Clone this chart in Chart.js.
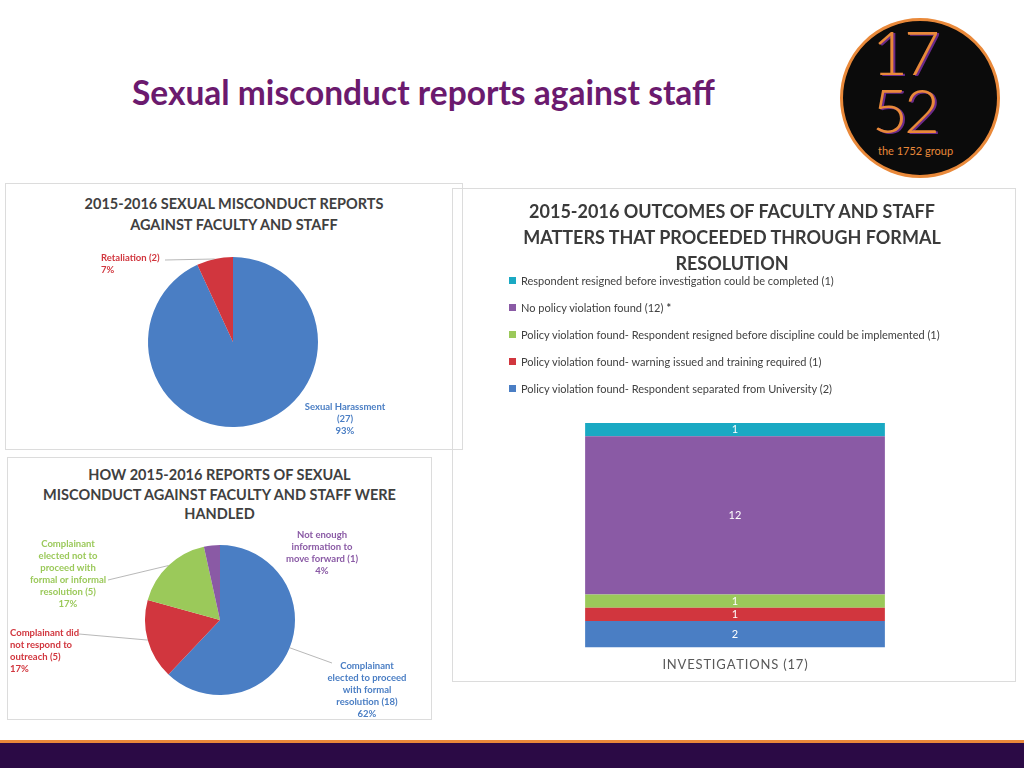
<!DOCTYPE html>
<html><head><meta charset="utf-8">
<script src="https://cdn.jsdelivr.net/npm/chart.js@4"></script>
<style>
body{margin:0;width:1024px;height:768px;position:relative;background:#fff;font-family:Lato,"Open Sans",sans-serif;overflow:hidden}
.abs{position:absolute}
.panel{position:absolute;border:1px solid #dcdcdc;box-sizing:border-box}
.ptitle{position:absolute;text-align:center;font-weight:bold;color:#404040;font-size:14.5px;line-height:21px}
#legend div{font-size:11px;color:#404040;height:27px;display:flex;align-items:center}
#legend span{display:inline-block;width:7px;height:7px;margin-right:5px}
</style></head><body>
<div class="abs" style="left:132px;top:72px;font-size:33.5px;font-weight:bold;color:#6b1a6e">Sexual misconduct reports against staff</div>
<div class="abs" style="left:840px;top:18px;width:154px;height:154px;border-radius:50%;background:#0b0b0b;border:3px solid #e9893a"></div>
<div class="abs" style="left:872px;top:22px;font-size:62px;font-weight:300;color:#e9893a;letter-spacing:-4px;line-height:58px;text-shadow:2px 1px 0 #6b2a8a">17<br>52</div>
<div class="abs" style="left:878px;top:144px;font-size:11px;color:#e9893a">the 1752 group</div>

<div class="panel" style="left:5px;top:183px;width:458px;height:267px"></div>
<div class="ptitle" style="left:5px;top:193px;width:458px">2015-2016 SEXUAL MISCONDUCT REPORTS<br>AGAINST FACULTY AND STAFF</div>
<canvas id="pie1" class="abs" style="left:5px;top:183px"></canvas>

<div class="panel" style="left:7px;top:457px;width:425px;height:263px"></div>
<div class="ptitle" style="left:7px;top:465px;width:425px;line-height:19.5px">HOW 2015-2016 REPORTS OF SEXUAL<br>MISCONDUCT AGAINST FACULTY AND STAFF WERE<br>HANDLED</div>
<canvas id="pie2" class="abs" style="left:7px;top:457px"></canvas>

<div class="panel" style="left:452px;top:188px;width:564px;height:494px"></div>
<div class="ptitle" style="left:452px;top:198px;width:560px;font-size:18px;line-height:26px;color:#3a3a3a">2015-2016 OUTCOMES OF FACULTY AND STAFF<br>MATTERS THAT PROCEEDED THROUGH FORMAL<br>RESOLUTION</div>
<div id="legend" class="abs" style="left:509px;top:267px"></div>
<canvas id="bar" class="abs" style="left:460px;top:415px"></canvas>

<div class="abs" style="left:0;top:740px;width:1024px;height:28px;background:#2b0a45;border-top:3px solid #e9893a;box-sizing:border-box"></div>
<script>
const BLUE='#4a7ec4',RED='#d1363e',GREEN='#9bc95a',PURPLE='#8a5aa5',TEAL='#1aa9c3';

const reportCats=['Sexual Harassment','Retaliation'];
const reportVals=[27,2];
const reportPct=['93%','7%'];
const handledCats=['Complainant elected to proceed with formal resolution','Complainant did not respond to outreach','Complainant elected not to proceed with formal or informal resolution','Not enough information to move forward'];
const handledVals=[18,5,5,1];
const handledPct=['62%','17%','17%','4%'];
const outcomeCats=['Policy violation found- Respondent separated from University (2)','Policy violation found- warning issued and training required (1)','Policy violation found- Respondent resigned before discipline could be implemented (1)','No policy violation found (12)','Respondent resigned before investigation could be completed (1)'];
const outcomeVals=[2,1,1,12,1];
const barLabel='INVESTIGATIONS (17)';

const lg=document.getElementById('legend');
const oc=[BLUE,RED,GREEN,PURPLE,TEAL];
for(let i=outcomeCats.length-1;i>=0;i--){
  const d=document.createElement('div');
  d.innerHTML='<span style="background:'+oc[i]+'"></span>'+outcomeCats[i]+(i===3?' <b style="margin-left:3px">*</b>':'');
  lg.appendChild(d);
}

// label plugin: text lines + optional leader to slice edge
const pieLabels={
  id:'pieLabels',
  afterDraw(chart,args,opts){
    const ctx=chart.ctx,arcs=chart.getDatasetMeta(0).data;
    opts.items.forEach(it=>{
      const a=arcs[it.i];
      const lines=it.lines.concat([opts.pct[it.i]]);
      ctx.save();ctx.fillStyle=it.color;ctx.font='bold 9.5px Lato, sans-serif';ctx.textAlign=it.align;ctx.textBaseline='middle';
      lines.forEach((l,k)=>ctx.fillText(l,it.x,it.y+k*12));
      if(it.lx!==undefined){
        const m=(a.startAngle+a.endAngle)/2;
        ctx.strokeStyle='#a6a6a6';ctx.lineWidth=0.8;ctx.beginPath();
        ctx.moveTo(it.lx,it.ly);ctx.lineTo(a.x+Math.cos(m)*a.outerRadius,a.y+Math.sin(m)*a.outerRadius);ctx.stroke();
      }
      ctx.restore();
    });
  }
};

function pie(id,w,h,vals,cats,cols,pct,pad,items){
  const c=document.getElementById(id);c.width=w;c.height=h;
  new Chart(c,{type:'pie',data:{labels:cats,datasets:[{data:vals,backgroundColor:cols,borderWidth:0}]},
    options:{responsive:false,animation:false,layout:{padding:pad},plugins:{legend:{display:false},tooltip:{enabled:false},pieLabels:{items,pct}}},
    plugins:[pieLabels]});
}

pie('pie1',458,267,reportVals,reportCats,[BLUE,RED],reportPct,{left:143,right:145,top:74,bottom:23},[
  {i:1,lines:['Retaliation ('+reportVals[1]+')'],x:96,y:75,align:'left',color:RED,lx:160,ly:77},
  {i:0,lines:['Sexual Harassment','('+reportVals[0]+')'],x:340,y:224,align:'center',color:BLUE}
]);
pie('pie2',425,263,handledVals,handledCats,[BLUE,RED,GREEN,PURPLE],handledPct,{left:138,right:137,top:88,bottom:25},[
  {i:0,lines:['Complainant','elected to proceed','with formal','resolution ('+handledVals[0]+')'],x:360,y:209,align:'center',color:BLUE,lx:325,ly:206},
  {i:1,lines:['Complainant did','not respond to','outreach ('+handledVals[1]+')'],x:3,y:176,align:'left',color:RED,lx:72,ly:177},
  {i:2,lines:['Complainant','elected not to','proceed with','formal or informal','resolution ('+handledVals[2]+')'],x:61,y:87,align:'center',color:GREEN,lx:101,ly:123},
  {i:3,lines:['Not enough','information to','move forward ('+handledVals[3]+')'],x:315,y:78,align:'center',color:PURPLE}
]);

const bc=document.getElementById('bar');bc.width=550;bc.height=260;
const valLabels={id:'valLabels',afterDatasetsDraw(chart){
  const ctx=chart.ctx;ctx.save();ctx.fillStyle='#fff';ctx.font='11px Lato, sans-serif';ctx.textAlign='center';ctx.textBaseline='middle';
  chart.data.datasets.forEach((ds,i)=>{const b=chart.getDatasetMeta(i).data[0];ctx.fillText(ds.data[0],b.x,(b.y+b.base)/2);});
  ctx.restore();}};
new Chart(bc,{type:'bar',
  data:{labels:[barLabel.split('').join('\u200A')],datasets:outcomeVals.map((v,i)=>({label:outcomeCats[i],data:[v],backgroundColor:oc[i]}))},
  options:{responsive:false,animation:false,layout:{padding:{top:8}},
    datasets:{bar:{barPercentage:0.545,categoryPercentage:1}},
    scales:{x:{stacked:true,grid:{display:false},border:{display:false},ticks:{color:'#595959',font:{size:13,family:'Lato'},padding:2}},
      y:{stacked:true,display:false,min:0,max:17}},
    plugins:{legend:{display:false},tooltip:{enabled:false}}},
  plugins:[valLabels]});
</script>
</body></html>
